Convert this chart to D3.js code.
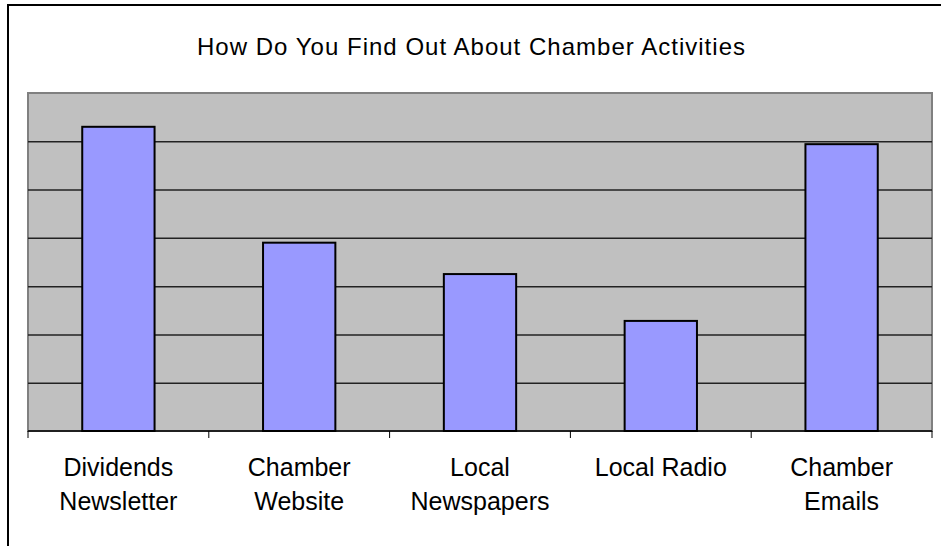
<!DOCTYPE html>
<html>
<head>
<meta charset="utf-8">
<script src="https://cdn.jsdelivr.net/npm/d3@7/dist/d3.min.js"></script>
<style>
  html, body { margin: 0; padding: 0; background: #fff; }
  svg { display: block; }
  text { font-family: "Liberation Sans", Arial, sans-serif; fill: #000; }
</style>
</head>
<body>
<svg id="chart" width="941" height="546"></svg>
<script>
// Survey responses: how members find out about chamber activities
const categories = [
  ["Dividends", "Newsletter"],
  ["Chamber", "Website"],
  ["Local", "Newspapers"],
  ["Local Radio"],
  ["Chamber", "Emails"]
];
const values = [63, 39, 32.5, 22.8, 59.4];
const yTicks = [0, 10, 20, 30, 40, 50, 60, 70];
const title = "How Do You Find Out About Chamber Activities";

const W = 941, H = 546;
const plot = { left: 28, right: 932, top: 93, bottom: 431 };

const svg = d3.select("#chart");
svg.append("rect").attr("width", W).attr("height", H).attr("fill", "#fff");

// outer chart frame (runs off the right and bottom edges)
svg.append("rect")
  .attr("x", 8).attr("y", 5)
  .attr("width", 960).attr("height", 580)
  .attr("fill", "none").attr("stroke", "#000").attr("stroke-width", 2);

// title
svg.append("text")
  .attr("x", 471).attr("y", 55)
  .attr("text-anchor", "middle")
  .attr("font-size", 24)
  .attr("textLength", 548)
  .attr("lengthAdjust", "spacing")
  .text(title);

const keys = categories.map(c => c.join(" "));
const x = d3.scaleBand()
  .domain(keys)
  .range([plot.left, plot.right])
  .paddingInner(0.6)
  .paddingOuter(0.3);

const y = d3.scaleLinear()
  .domain([0, d3.max(yTicks)])
  .range([plot.bottom, plot.top]);

// plot area
svg.append("rect")
  .attr("x", plot.left).attr("y", plot.top)
  .attr("width", plot.right - plot.left).attr("height", plot.bottom - plot.top)
  .attr("fill", "#c0c0c0").attr("stroke", "#808080").attr("stroke-width", 2);

// horizontal gridlines
const grid = svg.append("g")
  .attr("transform", `translate(${plot.left},0)`)
  .call(d3.axisLeft(y)
    .tickValues(yTicks.filter(v => v > 0 && v < d3.max(yTicks)))
    .tickSize(-(plot.right - plot.left))
    .tickFormat(""));
grid.select(".domain").remove();
grid.selectAll(".tick line").attr("stroke", "#222").attr("stroke-width", 1.5);

// bars
svg.append("g").selectAll("rect")
  .data(values)
  .join("rect")
  .attr("x", (d, i) => x(keys[i]))
  .attr("y", d => y(d))
  .attr("width", x.bandwidth())
  .attr("height", d => y(0) - y(d))
  .attr("fill", "#9999ff")
  .attr("stroke", "#000")
  .attr("stroke-width", 2);

// category axis with tick marks at the category boundaries
const step = x.step();
const boundaries = d3.range(keys.length + 1).map(i => plot.left + i * step);
const xAxis = svg.append("g").attr("transform", `translate(0,${plot.bottom})`);
xAxis.append("line")
  .attr("x1", plot.left).attr("x2", plot.right)
  .attr("stroke", "#000").attr("stroke-width", 1.5);
xAxis.selectAll("line.tick")
  .data(boundaries)
  .join("line")
  .attr("class", "tick")
  .attr("x1", d => d).attr("x2", d => d)
  .attr("y1", 0).attr("y2", 7)
  .attr("stroke", "#000").attr("stroke-width", 1);

// category labels
const labels = svg.append("g");
categories.forEach((lines, i) => {
  const t = labels.append("text")
    .attr("x", x(keys[i]) + x.bandwidth() / 2)
    .attr("y", 476)
    .attr("text-anchor", "middle")
    .attr("font-size", 25);
  lines.forEach((ln, j) => {
    t.append("tspan")
      .attr("x", x(keys[i]) + x.bandwidth() / 2)
      .attr("dy", j === 0 ? 0 : 34)
      .text(ln);
  });
});
</script>
</body>
</html>
